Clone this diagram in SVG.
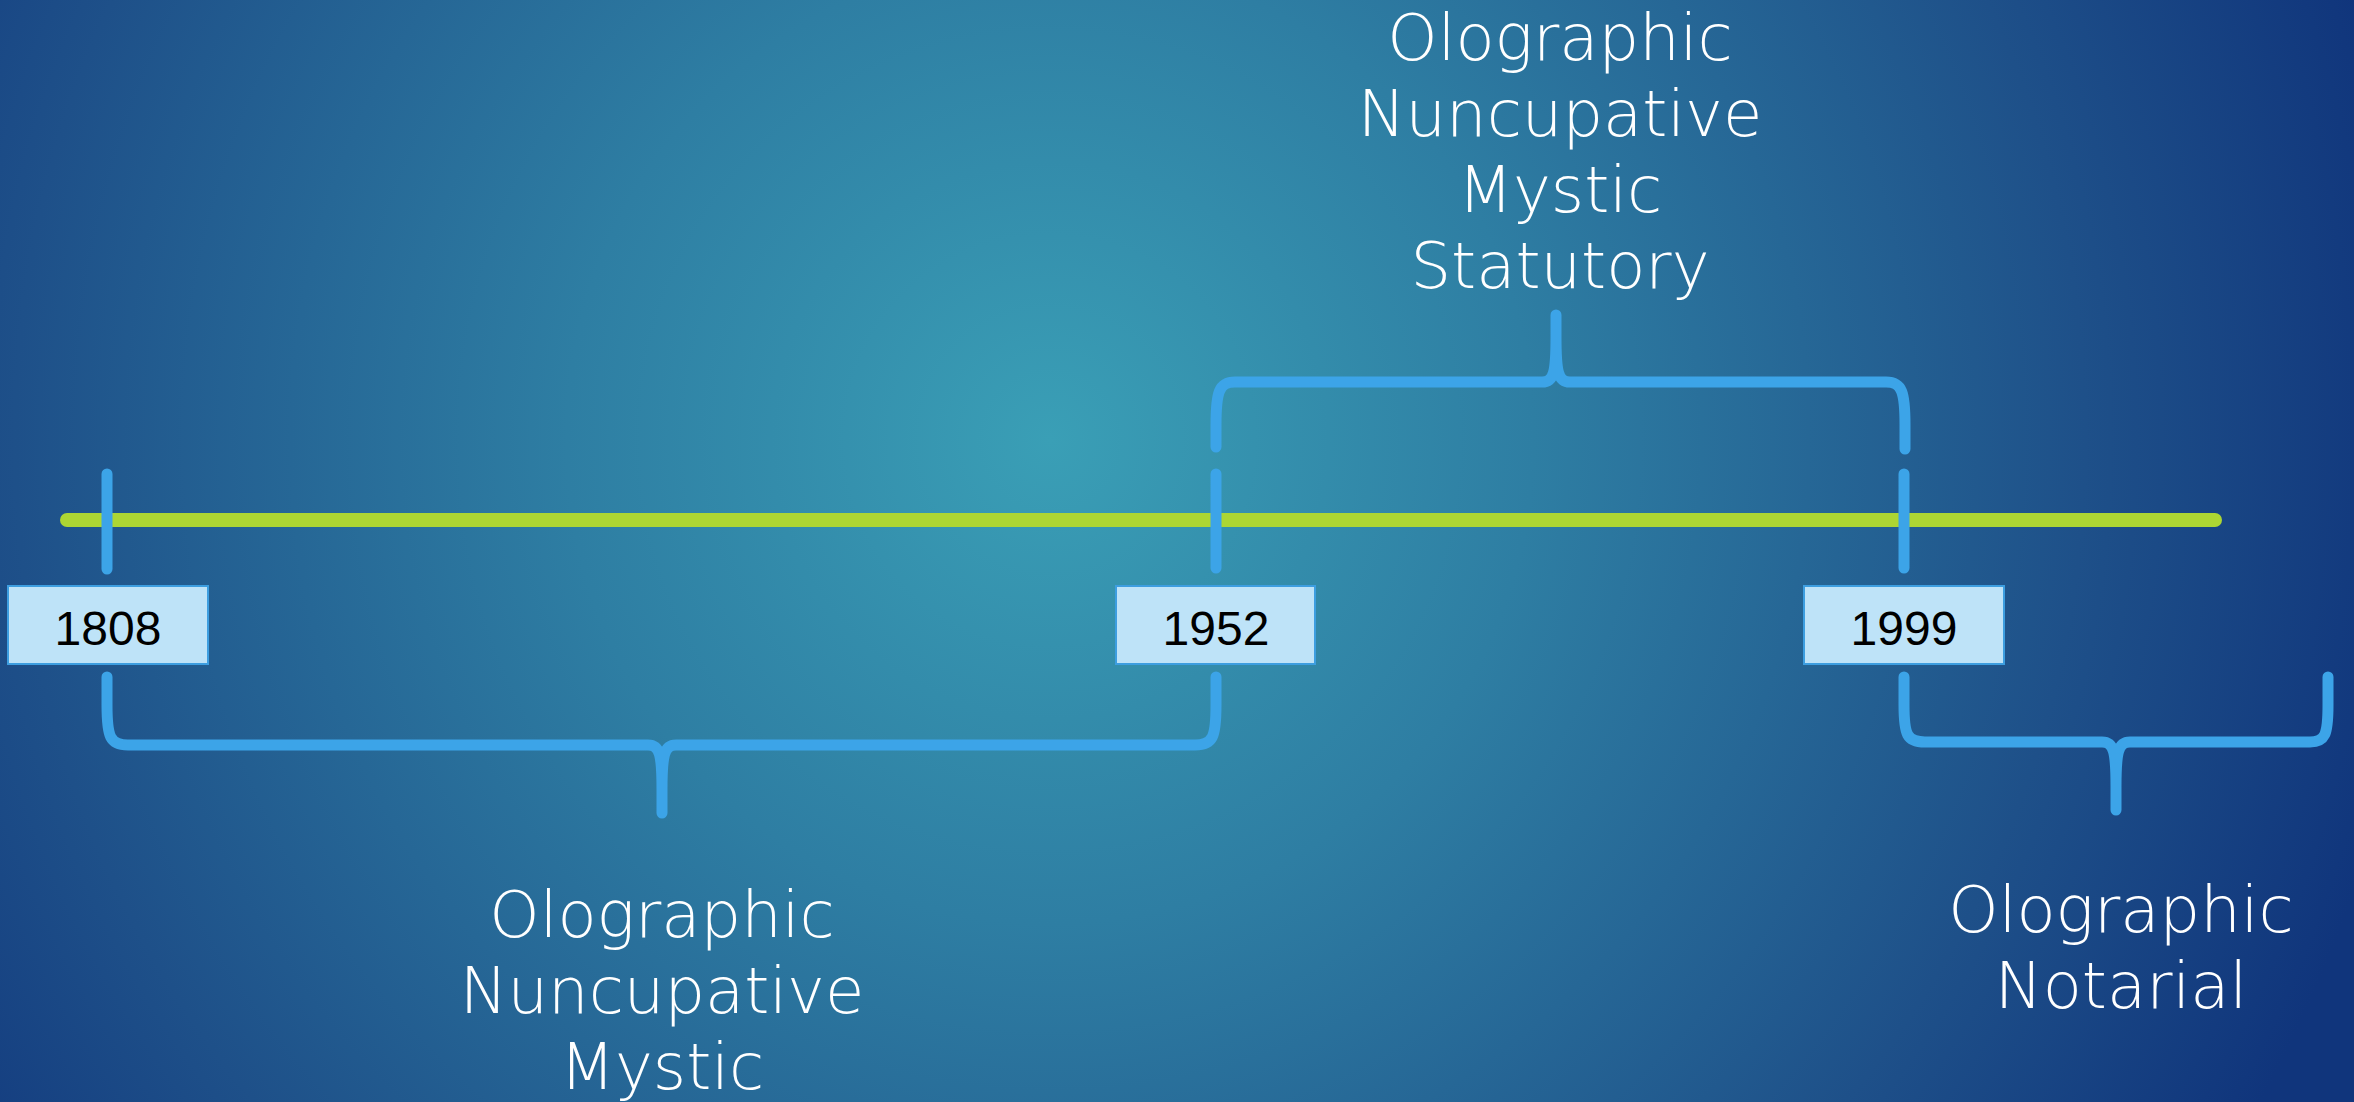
<svg xmlns="http://www.w3.org/2000/svg" width="2354" height="1102" viewBox="0 0 2354 1102">
<defs>
<radialGradient id="bg" cx="1050" cy="440" r="1380" gradientUnits="userSpaceOnUse">
<stop offset="0" stop-color="#3a9fb6"/>
<stop offset="0.35" stop-color="#2e7ea3"/>
<stop offset="0.75" stop-color="#1e5089"/>
<stop offset="1" stop-color="#10357c"/>
</radialGradient>
<style>
.tl{stroke:#add633;stroke-width:14;stroke-linecap:round;fill:none}
.br{stroke:#3ca4e8;stroke-width:11;stroke-linecap:round;stroke-linejoin:round;fill:none}
.box{fill:#bee3f8;stroke:#3d9ee0;stroke-width:2}
.yr{font-family:"Liberation Sans",Arial,sans-serif;font-size:48px;fill:#000;text-anchor:middle}
.lb{font-family:"DejaVu Sans","Liberation Sans",sans-serif;font-size:64px;font-weight:300;fill:#fff;text-anchor:middle}
</style>
</defs>
<rect x="0" y="0" width="2354" height="1102" fill="url(#bg)"/>
<g id="connectors">
<line class="tl" x1="67" y1="520" x2="2215" y2="520"/>
<line class="br" x1="107" y1="474" x2="107" y2="569"/>
<line class="br" x1="1216" y1="474" x2="1216" y2="568"/>
<line class="br" x1="1904" y1="474" x2="1904" y2="568"/>
<path class="br" d="M107,677 L107,705 C107,737 110,745 128,745 L648,745 C660,745 662,755 662,790 L662,813 M662,790 C662,755 664,745 676,745 L1195,745 C1213,745 1216,737 1216,705 L1216,677"/>
<path class="br" d="M1216,447 L1216,425 C1216,392 1219,382 1235,382 L1542,382 C1554,382 1556,372 1556,337 L1556,315 M1556,337 C1556,372 1558,382 1570,382 L1886,382 C1902,382 1905,392 1905,425 L1905,449"/>
<path class="br" d="M1904,677 L1904,705 C1904,735 1907,742 1925,742 L2102,742 C2114,742 2116,752 2116,787 L2116,810 M2116,787 C2116,752 2118,742 2130,742 L2310,742 C2325,742 2328,735 2328,705 L2328,677"/>
</g>
<g id="node-1808">
<rect class="box" x="8" y="586" width="200" height="78"/>
<text class="yr" x="108" y="645">1808</text>
</g>
<g id="node-1952">
<rect class="box" x="1116" y="586" width="199" height="78"/>
<text class="yr" x="1216" y="645">1952</text>
</g>
<g id="node-1999">
<rect class="box" x="1804" y="586" width="200" height="78"/>
<text class="yr" x="1904" y="645">1999</text>
</g>
<g id="label-1808-1952">
<text class="lb" x="662" y="937">Olographic</text>
<text class="lb" x="662" y="1013">Nuncupative</text>
<text class="lb" x="662" y="1089">Mystic</text>
</g>
<g id="label-1952-1999">
<text class="lb" x="1560" y="60">Olographic</text>
<text class="lb" x="1560" y="136">Nuncupative</text>
<text class="lb" x="1560" y="212">Mystic</text>
<text class="lb" x="1560" y="288">Statutory</text>
</g>
<g id="label-1999">
<text class="lb" x="2121" y="932">Olographic</text>
<text class="lb" x="2121" y="1008">Notarial</text>
</g>
</svg>
